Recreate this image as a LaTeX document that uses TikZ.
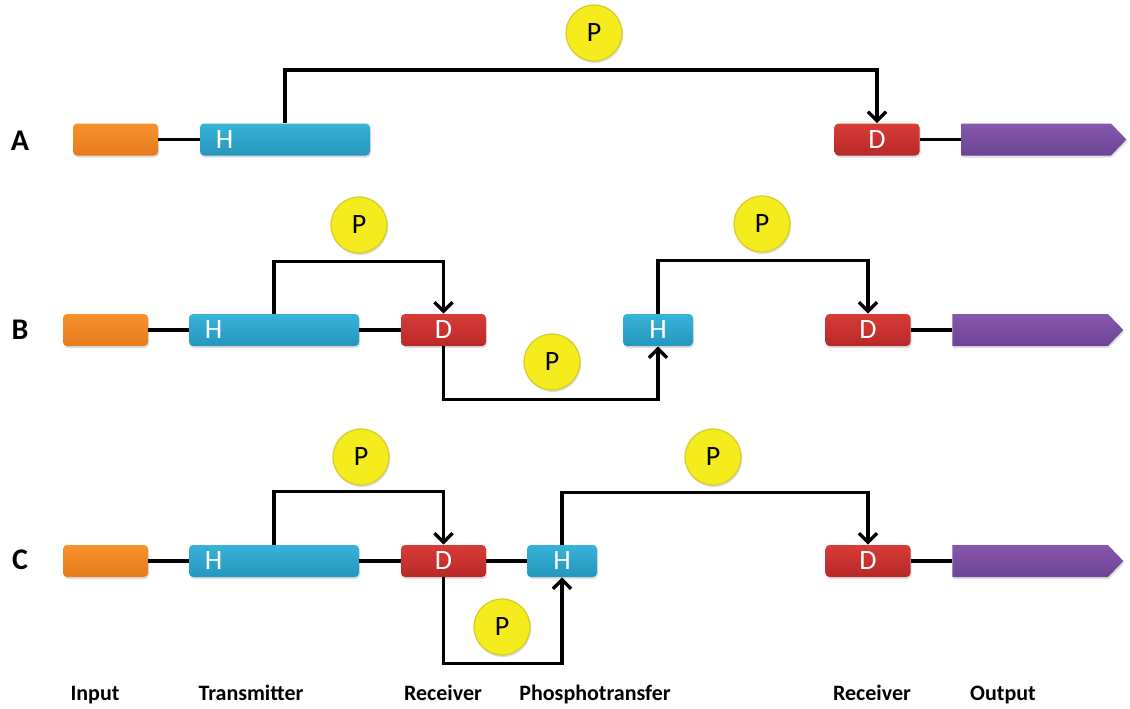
\documentclass[tikz,border=0pt]{standalone}
\usepackage{fontspec}
\setmainfont{Carlito}
\usetikzlibrary{arrows.meta,shapes.symbols,shadows,calc}
\definecolor{inA}{HTML}{F7922C}
\definecolor{inB}{HTML}{E67A1E}
\definecolor{hA}{HTML}{38B3D9}
\definecolor{hB}{HTML}{2596BD}
\definecolor{dA}{HTML}{D83C37}
\definecolor{dB}{HTML}{B82829}
\definecolor{oA}{HTML}{8758AE}
\definecolor{oB}{HTML}{6C4395}
\definecolor{pY}{HTML}{F5EC1E}
\definecolor{pE}{HTML}{D5CB2A}
\begin{document}
\begin{tikzpicture}[x=0.5pt,y=-0.5pt,
 shad/.style={drop shadow={shadow xshift=0.5pt, shadow yshift=-1pt, opacity=0.25}},
 box/.style={draw=none, rounded corners=2pt, minimum height=16pt, inner sep=0pt, shad},
 inbox/.style={box, top color=inA, bottom color=inB, minimum width=42.5pt},
 hbox/.style={box, top color=hA, bottom color=hB, text=white, font=\fontsize{14}{14}\selectfont},
 dbox/.style={box, top color=dA, bottom color=dB, minimum width=42.5pt, text=white, font=\fontsize{14}{14}\selectfont},
 outbox/.style={signal, signal to=east, signal pointer angle=92, top color=oA, bottom color=oB, minimum height=16pt, inner sep=0pt, draw=none, anchor=west, shad},
 lett/.style={text=white, font=\fontsize{14}{14}\selectfont, inner sep=0pt},
 pcirc/.style={circle, fill=pY, draw=pE, line width=0.6pt, minimum size=28pt, inner sep=0pt, font=\fontsize{14}{14}\selectfont, shad},
 link/.style={line width=1.7pt},
 arr/.style={link, -{Straight Barb[length=4.5pt,width=9pt]}},
 rowlab/.style={font=\bfseries\fontsize{15}{15}\selectfont, inner sep=0pt},
 caplab/.style={font=\bfseries\fontsize{11}{11}\selectfont, inner sep=0pt, anchor=base}]
\fill[white] (0,0) rectangle (1130,708);
\useasboundingbox (0,0) rectangle (1130,708);

% Row A
\node[rowlab] (rA) at (20,141) {A};
\node[inbox] (inAn) at (115.5,139.5) {};
\node[hbox, minimum width=85pt] (hAn) at (285,139.5) {};
\node[lett] (hAl) at ($(hAn.west)+(25,0)$) {H};
\node[dbox] (dAn) at (877,139.5) {D};
\node[outbox, minimum width=82.5pt] (oAn) at (961,139.5) {};
\node[pcirc] (pA) at (594,33) {P};
\draw[link] (inAn) -- (hAn);
\draw[link] (dAn) -- (oAn);
\draw[arr] (hAn.north) -- ++(0,-53) -| (dAn.north);

% Row B
\node[rowlab] (rB) at (20,330) {B};
\node[inbox] (inBn) at (105.5,330) {};
\node[hbox, minimum width=85pt] (hBn) at (274,330) {};
\node[lett] (hBl) at ($(hBn.west)+(25,0)$) {H};
\node[dbox] (dBn) at (443.5,330) {D};
\node[hbox, minimum width=35pt] (hB2) at (658,330) {H};
\node[dbox] (dB2) at (868,330) {D};
\node[outbox, minimum width=85.5pt] (oBn) at (952,330) {};
\node[pcirc] (pB1) at (359,225) {P};
\node[pcirc] (pB2) at (762,224) {P};
\node[pcirc] (pB3) at (552,362) {P};
\draw[link] (inBn) -- (hBn);
\draw[link] (hBn) -- (dBn);
\draw[link] (dB2) -- (oBn);
\draw[arr] (hBn.north) -- ++(0,-52) -| (dBn.north);
\draw[arr] (dBn.south) -- ++(0,53) -| (hB2.south);
\draw[arr] (hB2.north) -- ++(0,-53) -| (dB2.north);

% Row C
\node[rowlab] (rC) at (20,560) {C};
\node[inbox] (inCn) at (105.5,561) {};
\node[hbox, minimum width=85pt] (hCn) at (274,561) {};
\node[lett] (hCl) at ($(hCn.west)+(25,0)$) {H};
\node[dbox] (dCn) at (443.5,561) {D};
\node[hbox, minimum width=35pt] (hC2) at (562,561) {H};
\node[dbox] (dC2) at (868,561) {D};
\node[outbox, minimum width=85.5pt] (oCn) at (952,561) {};
\node[pcirc] (pC1) at (361,457) {P};
\node[pcirc] (pC2) at (713,457) {P};
\node[pcirc] (pC3) at (502,627) {P};
\draw[link] (inCn) -- (hCn);
\draw[link] (hCn) -- (dCn);
\draw[link] (dCn) -- (hC2);
\draw[link] (dC2) -- (oCn);
\draw[arr] (hCn.north) -- ++(0,-53) -| (dCn.north);
\draw[arr] (dCn.south) -- ++(0,86) -| (hC2.south);
\draw[arr] (hC2.north) -- ++(0,-52) -| (dC2.north);

% Captions
\node[caplab] (c1) at (95,700) {Input};
\node[caplab] (c2) at (251,700) {Transmitter};
\node[caplab] (c3) at (443,700) {Receiver};
\node[caplab] (c4) at (595,700) {Phosphotransfer};
\node[caplab] (c5) at (872,700) {Receiver};
\node[caplab] (c6) at (1003,700) {Output};
\end{tikzpicture}
\end{document}
